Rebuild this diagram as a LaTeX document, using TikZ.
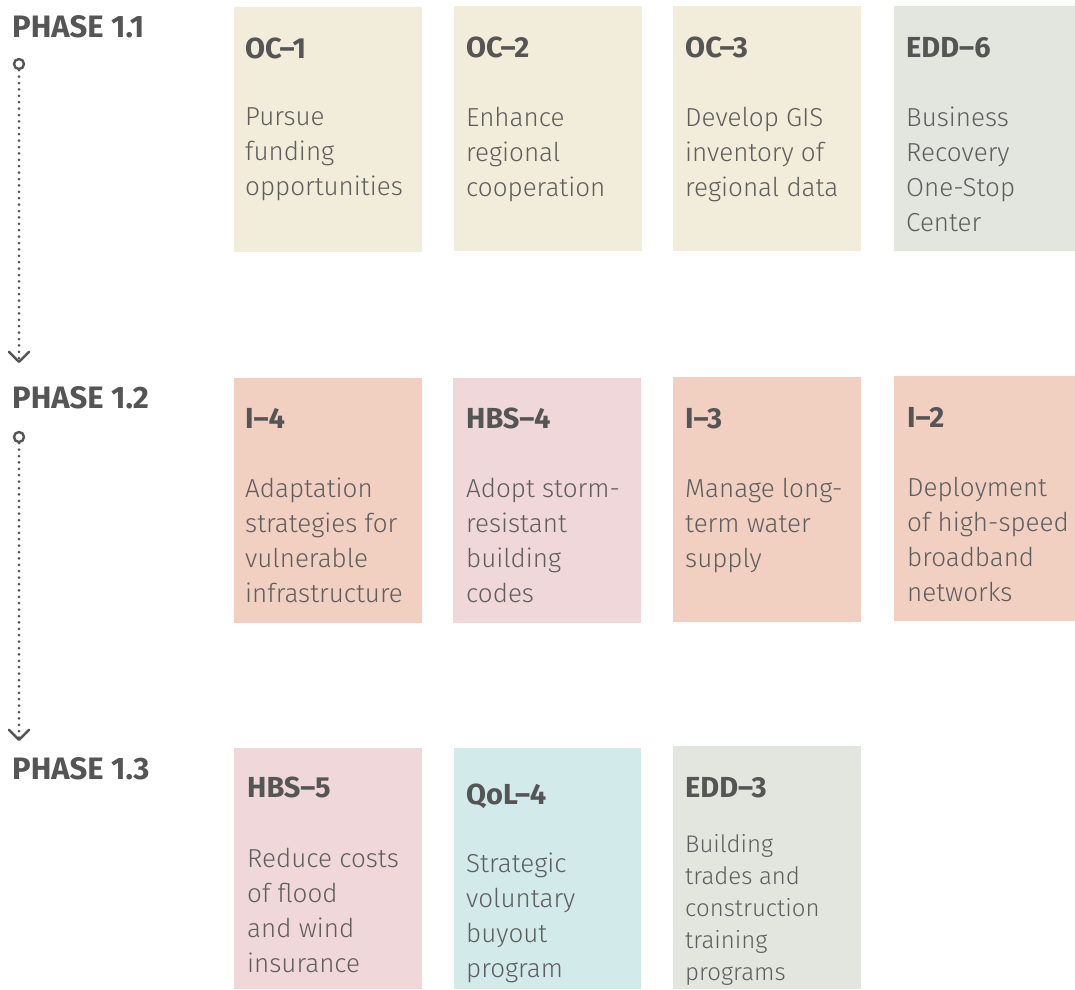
\documentclass[tikz,border=0pt]{standalone}
\usepackage{fontspec}
\setmainfont{Fira Sans Light}[BoldFont={Fira Sans Bold}]
\usepackage{xcolor}
\usetikzlibrary{positioning, arrows.meta}
\definecolor{pcream}{HTML}{F2ECDA}
\definecolor{psage}{HTML}{E2E6DF}
\definecolor{psalmon}{HTML}{F1CFC1}
\definecolor{prose}{HTML}{F0D8DA}
\definecolor{paqua}{HTML}{D2EAEA}
\definecolor{pink}{HTML}{555555}
\definecolor{pbody}{HTML}{5E5E5E}

\begin{document}
\begin{tikzpicture}[x=1pt, y=-1pt,
  card/.style={fill=#1, anchor=north west, minimum width=188pt, minimum height=245pt, inner sep=0pt, outer sep=0pt},
  code/.style={anchor=base west, inner sep=0pt, text=pink, font=\fontsize{29}{34}\selectfont\bfseries},
  % multi-line text: a strut on the first line, so north west sits 24pt above its baseline
  desc/.style={anchor=north west, inner sep=0pt, text=pbody, align=left, font=\fontsize{26}{35}\selectfont, execute at begin node=\rule{0pt}{24pt}},
  phase/.style={anchor=base west, inner sep=0pt, text=pink, font=\fontsize{31}{36}\selectfont\bfseries},
  ring/.style={circle, draw=pink, line width=2.4pt, minimum size=10pt, inner sep=0pt},
  flow/.style={draw=pink, line width=3pt, line cap=round, dash pattern=on 0pt off 6.4pt, -{Straight Barb[length=10pt, width=20pt, line width=2.4pt, round]}}
]
  \useasboundingbox (0,0) rectangle (1075,989);

  % Phase 1.1
  \node[card=pcream] (oc1) at (234,7) {};
  \node[card=pcream] (oc2) at (454,6) {};
  \node[card=pcream] (oc3) at (673,6) {};
  \node[card=psage, minimum width=181pt] (edd6) at (894,6) {};
  \node[code] (oc1code) at (245,58) {OC–1};
  \node[code] (oc2code) at (466,57) {OC–2};
  \node[code] (oc3code) at (685,57) {OC–3};
  \node[code] (edd6code) at (906,57) {EDD–6};
  \node[desc] (oc1desc) at (245,107) {Pursue\\funding\\opportunities};
  \node[desc] (oc2desc) at (466,107) {Enhance\\regional\\cooperation};
  \node[desc] (oc3desc) at (685,107) {Develop GIS\\inventory of\\regional data};
  \node[desc] (edd6desc) at (906,107) {Business\\Recovery\\One-Stop\\Center};

  % Phase 1.2
  \node[card=psalmon] (i4) at (234,378) {};
  \node[card=prose] (hbs4) at (453,378) {};
  \node[card=psalmon] (i3) at (673,377) {};
  \node[card=psalmon, minimum width=181pt] (i2) at (894,376) {};
  \node[code] (i4code) at (245,428) {I–4};
  \node[code] (hbs4code) at (466,428) {HBS–4};
  \node[code] (i3code) at (685,428) {I–3};
  \node[code] (i2code) at (907,427) {I–2};
  \node[desc] (i4desc) at (245,478) {Adaptation\\strategies for\\vulnerable\\infrastructure};
  \node[desc] (hbs4desc) at (466,478) {Adopt storm-\\resistant\\building\\codes};
  \node[desc] (i3desc) at (685,478) {Manage long-\\term water\\supply};
  \node[desc] (i2desc) at (907,477) {Deployment\\of high-speed\\broadband\\networks};

  % Phase 1.3
  \node[card=prose, minimum height=241pt] (hbs5) at (234,748) {};
  \node[card=paqua, minimum width=187pt, minimum height=241pt] (qol4) at (454,748) {};
  \node[card=psage, minimum height=243pt] (edd3) at (673,746) {};
  \node[code] (hbs5code) at (247,797) {HBS–5};
  \node[code] (qol4code) at (466,804) {QoL–4};
  \node[code] (edd3code) at (685,797) {EDD–3};
  \node[desc] (hbs5desc) at (247,848) {Reduce costs\\of flood\\and wind\\insurance};
  \node[desc] (qol4desc) at (466,853) {Strategic\\voluntary\\buyout\\program};
  \node[desc, font=\fontsize{24}{32}\selectfont] (edd3desc) at (685,834) {Building\\trades and\\construction\\training\\programs};

  % phase labels and timeline
  \node[phase] (ph11) at (12,37) {PHASE 1.1};
  \node[phase] (ph12) at (12,408) {PHASE 1.2};
  \node[phase] (ph13) at (12,779) {PHASE 1.3};
  \node[ring] (ph11ring) at (19,64) {};
  \node[ring] (ph12ring) at (19,437) {};
  \coordinate (ph12tip) at (19,363);
  \coordinate (ph13tip) at (19,741);
  \draw[flow] (ph11ring.south) -- (ph12tip);
  \draw[flow] (ph12ring.south) -- (ph13tip);
\end{tikzpicture}
\end{document}
